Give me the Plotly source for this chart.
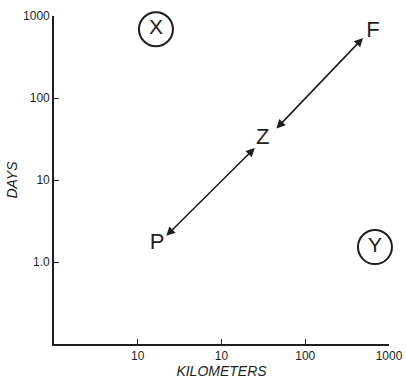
import numpy as np
import plotly.graph_objects as go

# ---- data (values in kilometers / days) ----
point_labels = ["P", "Z", "F"]
label_km = [1.7, 31, 645]
label_days = [1.7, 32.5, 640]

# arrow segments (start tip, end tip) — double-headed
seg_start_km = [2.1, 43.5]
seg_start_days = [2.0, 40.7]
seg_end_km = [25, 490]
seg_end_days = [24.6, 540]

circle_labels = ["X", "Y"]
circle_km = [1.65, 680]
circle_days = [690, 1.52]

x_tickvals = [1, 10, 100, 1000]
x_ticktext = ["10", "10", "100", "1000"]
y_tickvals = [1, 10, 100, 1000]
y_ticktext = ["1.0", "10", "100", "1000"]

INK = "#1e1e1e"
LETTER_FONT = dict(family="Liberation Sans, Arial, sans-serif", size=22, color=INK)
CIRCLE_FONT = dict(family="Liberation Sans, Arial, sans-serif", size=21, color=INK)
TICK_FONT = dict(family="Liberation Sans, Arial, sans-serif", size=12, color=INK)
TITLE_FONT = dict(family="Liberation Sans, Arial, sans-serif", size=14, color=INK)

fig = go.Figure()

# letter labels
fig.add_trace(go.Scatter(
    x=label_km, y=label_days, mode="text", text=point_labels,
    textposition="middle center", textfont=LETTER_FONT, cliponaxis=False,
    hoverinfo="skip", showlegend=False))

# circled letters
fig.add_trace(go.Scatter(
    x=circle_km, y=circle_days, mode="markers+text", text=circle_labels,
    textposition="middle center", textfont=CIRCLE_FONT, cliponaxis=False,
    marker=dict(symbol="circle-open", size=34, color=INK, line=dict(width=2, color=INK)),
    hoverinfo="skip", showlegend=False))

# double-headed arrows
for xs, ys, xe, ye in zip(seg_start_km, seg_start_days, seg_end_km, seg_end_days):
    fig.add_annotation(
        x=np.log10(xe), y=np.log10(ye), ax=np.log10(xs), ay=np.log10(ys),
        xref="x", yref="y", axref="x", ayref="y",
        showarrow=True, arrowhead=2, startarrowhead=2, arrowside="end+start",
        arrowsize=1.1, startarrowsize=1.1, arrowwidth=1.6, arrowcolor=INK, text="")

axis_common = dict(
    type="log", showgrid=False, zeroline=False, showline=True,
    linecolor=INK, linewidth=1.6, ticks="inside", ticklen=5, tickwidth=1.4,
    tickcolor=INK, tickfont=TICK_FONT, mirror=False,
)

fig.update_xaxes(
    **axis_common, range=[-1, 3], tickvals=x_tickvals, ticktext=x_ticktext,
    title=dict(text="<i>KILOMETERS</i>", font=TITLE_FONT, standoff=4),
)
fig.update_yaxes(
    **axis_common, range=[-1, 3], tickvals=y_tickvals, ticktext=y_ticktext,
    title=dict(text="<i>DAYS</i>", font=TITLE_FONT, standoff=2),
)

fig.update_layout(
    width=406, height=379,
    margin=dict(l=54, r=17, t=16, b=35, autoexpand=False),
    paper_bgcolor="white", plot_bgcolor="white",
    showlegend=False,
)

fig.write_html(
    "out.html",
    config={"displayModeBar": False},
    post_script="document.body.style.margin='0';document.body.style.overflow='hidden';",
)
